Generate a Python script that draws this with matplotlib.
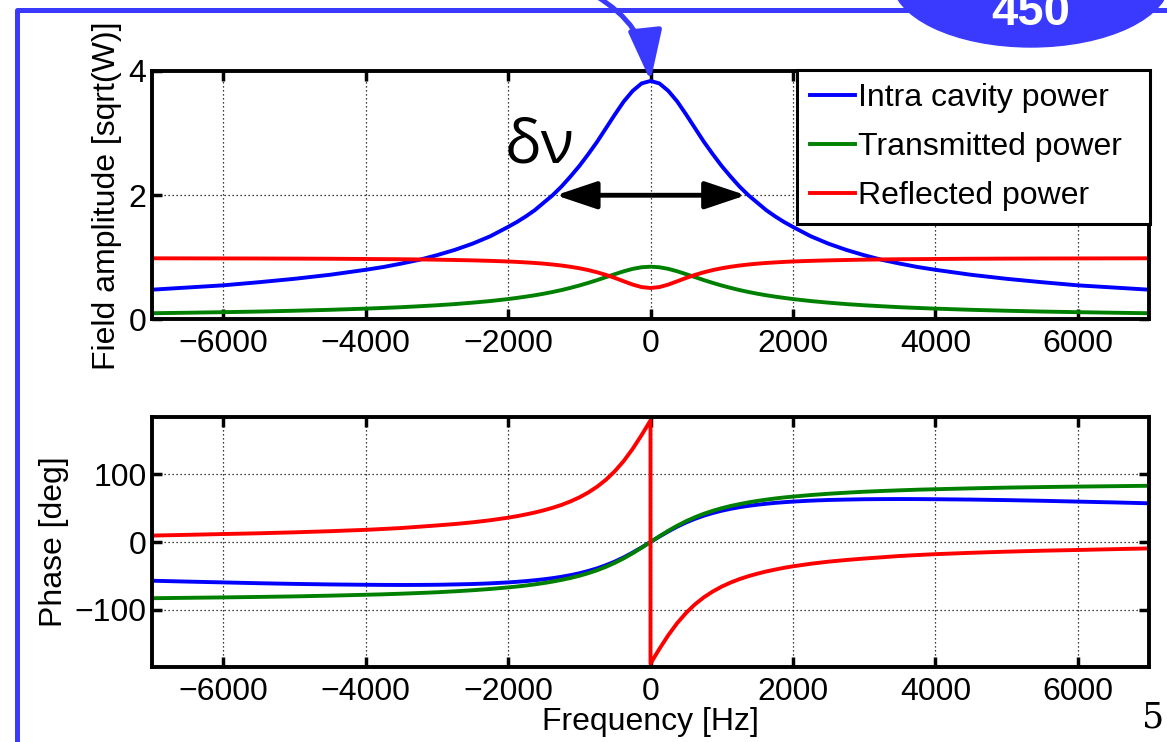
import numpy as np
import matplotlib
matplotlib.use('Agg')
import matplotlib.pyplot as plt
from matplotlib.patches import Ellipse

plt.rcParams['font.family'] = ['Liberation Sans', 'DejaVu Sans']

# frequency grid shared by the amplitude and the smooth phase curves [Hz]
freq = [-7000, -6500, -6000, -5500, -5000, -4500, -4000, -3750, -3500, -3250,
        -3000, -2750, -2500, -2250, -2000, -1875, -1750, -1625, -1500, -1375,
        -1250, -1125, -1000, -875, -750, -625, -500, -375, -250, -125,
        0, 125, 250, 375, 500, 625, 750, 875, 1000, 1125,
        1250, 1375, 1500, 1625, 1750, 1875, 2000, 2250, 2500, 2750,
        3000, 3250, 3500, 3750, 4000, 4500, 5000, 5500, 6000, 6500, 7000]

# field amplitudes [sqrt(W)]
intra_amp = [0.48, 0.515, 0.55, 0.60, 0.655, 0.72, 0.80, 0.845, 0.90, 0.96,
             1.035, 1.12, 1.22, 1.34, 1.49, 1.57, 1.66, 1.76, 1.88, 2.00,
             2.14, 2.30, 2.47, 2.66, 2.86, 3.08, 3.30, 3.51, 3.68, 3.80,
             3.84, 3.80, 3.68, 3.51, 3.30, 3.08, 2.86, 2.66, 2.47, 2.30,
             2.14, 2.00, 1.88, 1.76, 1.66, 1.57, 1.49, 1.34, 1.22, 1.12,
             1.035, 0.96, 0.90, 0.845, 0.80, 0.72, 0.655, 0.60, 0.55, 0.515, 0.48]
trans_amp = [0.101, 0.109, 0.118, 0.128, 0.141, 0.156, 0.175, 0.186, 0.198, 0.213,
             0.229, 0.248, 0.271, 0.297, 0.329, 0.348, 0.368, 0.390, 0.415, 0.443,
             0.474, 0.509, 0.547, 0.589, 0.634, 0.682, 0.730, 0.776, 0.815, 0.841,
             0.850, 0.841, 0.815, 0.776, 0.730, 0.682, 0.634, 0.589, 0.547, 0.509,
             0.474, 0.443, 0.415, 0.390, 0.368, 0.348, 0.329, 0.297, 0.271, 0.248,
             0.229, 0.213, 0.198, 0.186, 0.175, 0.156, 0.141, 0.128, 0.118, 0.109, 0.101]
refl_amp = [0.985, 0.984, 0.983, 0.982, 0.980, 0.978, 0.974, 0.972, 0.970, 0.967,
            0.963, 0.958, 0.952, 0.944, 0.934, 0.927, 0.919, 0.910, 0.899, 0.885,
            0.869, 0.849, 0.825, 0.796, 0.760, 0.718, 0.669, 0.615, 0.562, 0.522,
            0.507, 0.522, 0.562, 0.615, 0.669, 0.718, 0.760, 0.796, 0.825, 0.849,
            0.869, 0.885, 0.899, 0.910, 0.919, 0.927, 0.934, 0.944, 0.952, 0.958,
            0.963, 0.967, 0.970, 0.972, 0.974, 0.978, 0.980, 0.982, 0.983, 0.984, 0.985]

# phases [deg]
intra_phase = [-57.3, -58.6, -59.8, -61.0, -62.0, -62.8, -63.3, -63.5, -63.6, -63.5,
               -63.3, -62.8, -62.2, -61.2, -59.8, -58.9, -57.9, -56.6, -55.2, -53.5,
               -51.5, -49.1, -46.3, -42.9, -39.0, -34.3, -28.9, -22.7, -15.6, -8.0,
               0.0, 8.0, 15.6, 22.7, 28.9, 34.3, 39.0, 42.9, 46.3, 49.1,
               51.5, 53.5, 55.2, 56.6, 57.9, 58.9, 59.8, 61.2, 62.2, 62.8,
               63.3, 63.5, 63.6, 63.5, 63.3, 62.8, 62.0, 61.0, 59.8, 58.6, 57.3]
trans_phase = [-83.2, -82.6, -82.0, -81.3, -80.5, -79.4, -78.1, -77.4, -76.5, -75.5,
               -74.4, -73.0, -71.4, -69.5, -67.2, -65.9, -64.4, -62.7, -60.8, -58.6,
               -56.1, -53.3, -50.0, -46.2, -41.8, -36.7, -30.8, -24.1, -16.6, -8.5,
               0.0, 8.5, 16.6, 24.1, 30.8, 36.7, 41.8, 46.2, 50.0, 53.3,
               56.1, 58.6, 60.8, 62.7, 64.4, 65.9, 67.2, 69.5, 71.4, 73.0,
               74.4, 75.5, 76.5, 77.4, 78.1, 79.4, 80.5, 81.3, 82.0, 82.6, 83.2]
# reflected phase wraps at resonance, so it has its own grid with 0 twice
refl_freq = [-7000, -6500, -6000, -5500, -5000, -4500, -4000, -3750, -3500, -3250,
             -3000, -2750, -2500, -2250, -2000, -1875, -1750, -1625, -1500, -1375,
             -1250, -1125, -1000, -875, -750, -625, -500, -375, -250, -125,
             0, 0, 125, 250, 375, 500, 625, 750, 875, 1000, 1125,
             1250, 1375, 1500, 1625, 1750, 1875, 2000, 2250, 2500, 2750,
             3000, 3250, 3500, 3750, 4000, 4500, 5000, 5500, 6000, 6500, 7000]
refl_phase = [9.5, 10.6, 11.8, 12.9, 14.3, 16.0, 18.0, 19.3, 20.7, 22.6,
              24.5, 26.6, 29.1, 32.2, 36.0, 38.2, 40.8, 43.6, 46.9, 50.6,
              54.9, 60.0, 66.0, 73.2, 81.8, 92.2, 104.9, 120.0, 137.9, 158.2,
              180, -180, -158.2, -137.9, -120.0, -104.9, -92.2, -81.8, -73.2, -66.0, -60.0,
              -54.9, -50.6, -46.9, -43.6, -40.8, -38.2, -36.0, -32.2, -29.1, -26.6,
              -24.5, -22.6, -20.7, -19.3, -18.0, -16.0, -14.3, -12.9, -11.8, -10.6, -9.5]

labels = ['Intra cavity power', 'Transmitted power', 'Reflected power']
colors = ['#0000ff', '#008000', '#ff0000']
xticks = [-6000, -4000, -2000, 0, 2000, 4000, 6000]
amp_ticks = [0, 2, 4]
phase_ticks = [-100, 0, 100]
dnu_ends = (-1330, 1340)   # linewidth arrow, at the half-height level
dnu_level = 2

FS = 23
W, H = 1167, 742
fig = plt.figure(figsize=(W / 100, H / 100), dpi=100)
fig.patch.set_facecolor('white')

ax1 = fig.add_axes([152 / W, 1 - 319.5 / H, 997 / W, 248.5 / H])
ax2 = fig.add_axes([152 / W, 1 - 667 / H, 997 / W, 250 / H])


def style(ax, yticks):
    for s in ax.spines.values():
        s.set_linewidth(2.8)
    ax.tick_params(direction='in', length=7, width=2.5, top=True, right=True,
                   labelsize=FS)
    ax.tick_params(axis='x', pad=7)
    ax.tick_params(axis='y', pad=4)
    ax.grid(True, color='k', linestyle=(0, (1, 2.2)), linewidth=0.9)
    ax.set_axisbelow(True)
    ax.set_xlim(-7000, 7000)
    ax.set_xticks(xticks)
    ax.set_yticks(yticks)


# top panel: amplitudes
for y, c, lab in zip([intra_amp, trans_amp, refl_amp], colors, labels):
    ax1.plot(freq, y, color=c, lw=2.8, label=lab)
style(ax1, amp_ticks)
ax1.set_ylim(0, 4)
ax1.set_ylabel('Field amplitude [sqrt(W)]', fontsize=FS, labelpad=5)

ax1.annotate('', xy=(dnu_ends[0], dnu_level), xytext=(dnu_ends[1], dnu_level),
             arrowprops=dict(arrowstyle='<|-|>,head_length=1.25,head_width=0.42',
                             mutation_scale=20, lw=3.5, color='k',
                             shrinkA=0, shrinkB=0))
ax1.text(-2050, 2.53, 'δν', fontsize=44, family=['Open Sans', 'DejaVu Sans'],
         ha='left', va='baseline')

leg = ax1.legend(loc='upper left',
                 bbox_to_anchor=((797 - 152) / 997, (319.5 - 70) / 248.5, 353 / 997, 0),
                 mode='expand', borderaxespad=0, fontsize=FS, handlelength=1.4,
                 handletextpad=0.1, labelspacing=0.6, borderpad=0.4,
                 fancybox=False, framealpha=1, edgecolor='k')
leg.get_frame().set_linewidth(2.2)

# bottom panel: phases
ax2.plot(freq, intra_phase, color=colors[0], lw=2.8)
ax2.plot(freq, trans_phase, color=colors[1], lw=2.8)
ax2.plot(refl_freq, refl_phase, color=colors[2], lw=2.8)
style(ax2, phase_ticks)
ax2.set_ylim(-185, 185)
ax2.set_ylabel('Phase [deg]', fontsize=FS, labelpad=4)
ax2.set_xlabel('Frequency [Hz]', fontsize=FS, labelpad=0)

# slide decorations in pixel coordinates
ov = fig.add_axes([0, 0, 1, 1])
ov.set_xlim(0, W)
ov.set_ylim(H, 0)
ov.axis('off')
frame_col = '#3a3aff'
ov.plot([17, 17, W], [H, 10, 10], color=frame_col, lw=3.6, solid_joinstyle='round')
ov.add_patch(Ellipse((1031, -20), 278, 134, color=frame_col))
ov.text(1031, 25, '450', color='white', fontsize=34, fontweight='bold',
        ha='center', va='baseline')
ov.text(1164, 728, '5', fontsize=25, ha='right', va='baseline',
        family=['DejaVu Serif'])
ov.annotate('', xy=(0, max(intra_amp)), xycoords=ax1.transData,
            xytext=(596, -4), textcoords='data',
            arrowprops=dict(arrowstyle='-|>,head_length=1.55,head_width=0.52',
                            mutation_scale=20, lw=3.6, color=frame_col,
                            connectionstyle='arc3,rad=-0.25',
                            shrinkA=0, shrinkB=0),
            annotation_clip=False)

fig.savefig('out.png', dpi=100)
